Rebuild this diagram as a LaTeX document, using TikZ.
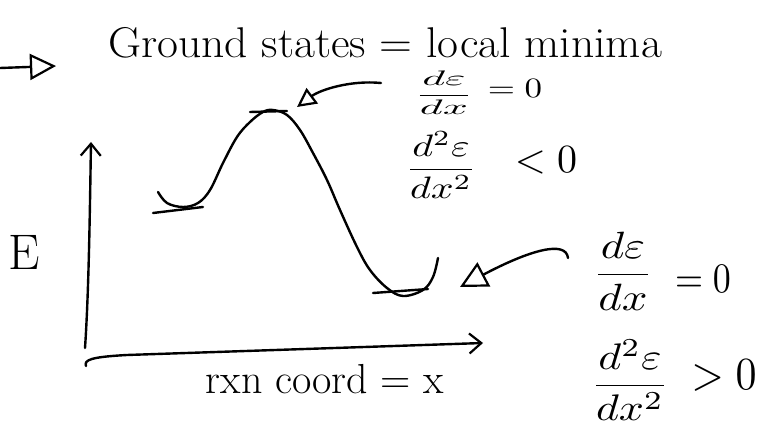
\documentclass[tikz,border=0pt]{standalone}
\usetikzlibrary{arrows.meta}
\begin{document}
\begin{tikzpicture}[x=1pt,y=-1pt,
  ink/.style={line width=2.4pt,line cap=round,line join=round},
  txt/.style={inner sep=0pt,outer sep=0pt},
  openhead/.style={-{Triangle[open,length=#1,width=#1,line width=2.2pt]}},
  barbhead/.style={-{Straight Barb[length=12pt,width=20pt,line width=2.2pt]}}]
\useasboundingbox (0,0) rectangle (760,427);
% top arrow and title
\coordinate (t0) at (0,68);
\coordinate (t1) at (56,66);
\draw[ink,openhead=26pt] (t0) -- (t1);
\node[txt,anchor=base west,font=\fontsize{43}{48}\selectfont] (title) at (108,58) {\scalebox{1.06}[1]{Ground states = local minima}};
% axes
\coordinate (o) at (86,366);
\coordinate (ytop) at (91,142);
\coordinate (xend) at (483,343);
\draw[ink,barbhead] (85,348) .. controls (89,290) and (90,200) .. (ytop);
\draw[ink,barbhead] (o) .. controls (84,360) and (90,357) .. (127,355) -- (xend);
\node[txt,font=\fontsize{50}{56}\selectfont] (E) at (24,252) {E};
\node[txt,anchor=base,font=\fontsize{42}{48}\selectfont] (xlab) at (325,393) {rxn coord = x};
% energy curve
\draw[ink] plot[smooth,tension=0.6] coordinates {(158,192) (167,203) (183,207) (198,203) (210,190) (223,163) (237,137) (250,122) (263,112) (273,110) (287,115) (300,130) (313,153) (327,180) (340,210) (357,247) (370,270) (387,288) (403,296) (423,290) (433,277) (438,258)};
% ticks
\draw[ink] (153,213) -- (203,207);
\draw[ink] (250,112) -- (287,111);
\draw[ink] (373,293) -- (428,289);
% label arrows
\coordinate (p0) at (381,83);
\coordinate (p1) at (297,107);
\draw[ink,openhead=19pt] (p0) .. controls (350,80) and (320,90) .. (p1);
\coordinate (q0) at (568,258);
\coordinate (q1) at (460,287);
\draw[ink,openhead=27pt] (q0) .. controls (566,240) and (530,250) .. (q1);
% top fractions
\node[txt] (f1) at (444,93) {\scalebox{4.4}[2.1]{$\displaystyle\frac{d\varepsilon}{dx}$}};
\node[txt] (r1) at (515,88) {\scalebox{3.5}[2.8]{$=0$}};
\node[txt] (f2) at (441,165) {\scalebox{4.0}[3.1]{$\displaystyle\frac{d^2\varepsilon}{dx^2}$}};
\node[txt] (r2) at (546,160) {\scalebox{4.0}{$<0$}};
% bottom fractions
\node[txt] (f3) at (623,271) {\scalebox{4.5}[3.8]{$\displaystyle\frac{d\varepsilon}{dx}$}};
\node[txt] (r3) at (703,279) {\scalebox{3.6}[4.2]{$=0$}};
\node[txt] (f4) at (630,380) {\scalebox{4.4}[3.7]{$\displaystyle\frac{d^2\varepsilon}{dx^2}$}};
\node[txt] (r4) at (724,376) {\scalebox{4.2}[4.6]{$>0$}};
\end{tikzpicture}
\end{document}
